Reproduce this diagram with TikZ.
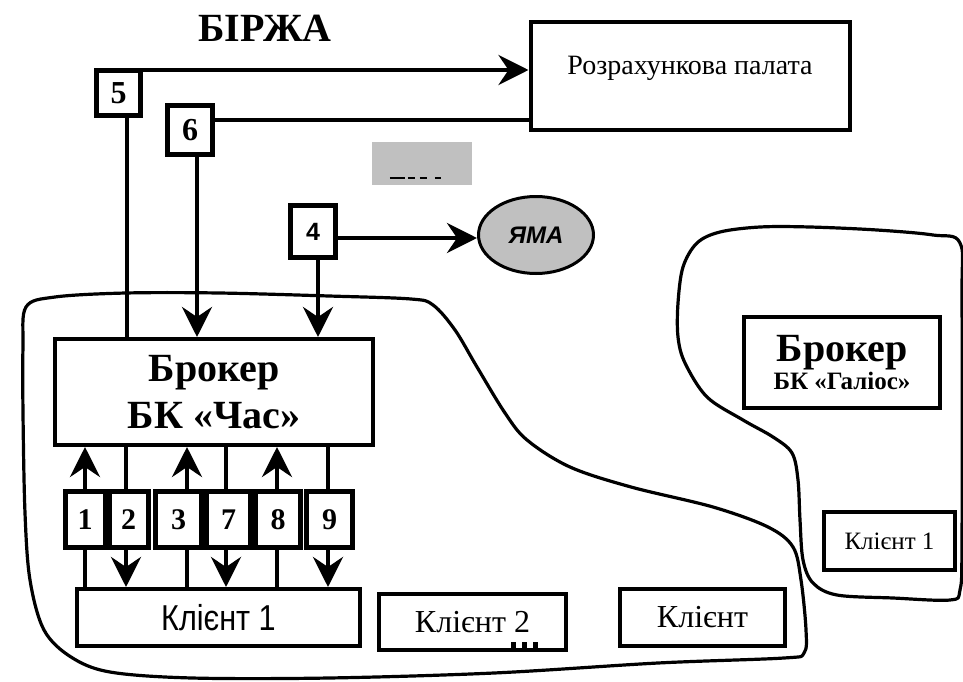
\documentclass[tikz,border=0pt]{standalone}
\usepackage{fontspec}
\setmainfont{Liberation Serif}
\newfontfamily\arialfont{Liberation Sans}
\newfontfamily\arialnarrow[FakeStretch=0.85]{Liberation Sans}
\usetikzlibrary{arrows.meta,shapes.geometric,calc,backgrounds}
\definecolor{ink}{HTML}{000000}
\definecolor{pit}{HTML}{C0C0C0}
\tikzset{
  box/.style={draw=ink, line width=4pt, fill=white, inner sep=0pt, align=center},
  numbox/.style={draw=ink, line width=5pt, fill=white, inner sep=0pt, minimum height=56pt, font=\bfseries\fontsize{30}{30}\selectfont},
  conn/.style={draw=ink, line width=4.5pt},
  arr/.style={conn, -{Stealth[length=30pt,width=30pt,inset=10pt]}},
  blob/.style={draw=ink, line width=3.2pt, line join=round},
}

\begin{document}
\begin{tikzpicture}[x=1pt,y=-1pt]
  \useasboundingbox (0,0) rectangle (963,682);

  \node[font=\bfseries\fontsize{40}{40}\selectfont] (birzha) at (265,28) {БІРЖА};
  \node[box, minimum width=319pt, minimum height=108pt, text height=19pt, text depth=21pt, font=\fontsize{28}{28}\selectfont] (pal) at (690,76) {Розрахункова палата};
  \node[box, line width=5pt, minimum width=44pt, minimum height=45pt, font=\bfseries\fontsize{32}{32}\selectfont] (b5) at (118.5,93) {5};
  \node[box, line width=5pt, minimum width=45pt, minimum height=49pt, font=\bfseries\fontsize{32}{32}\selectfont] (b6) at (190,130) {6};
  \node[fill=pit, minimum width=100pt, minimum height=43pt, inner sep=0pt] (grey) at (422,163.5) {};
  \node[box, line width=4.5pt, minimum width=45pt, minimum height=52pt, font=\arialfont\bfseries\fontsize{25}{25}\selectfont] (b4) at (313,231.5) {4};
  \node[ellipse, draw=ink, line width=3pt, fill=pit, minimum width=115pt, minimum height=77pt, inner sep=0pt, font=\arialfont\bfseries\itshape\fontsize{24}{24}\selectfont] (yama) at (536,235) {ЯМА};

  \node[box, minimum width=318pt, minimum height=106pt, font=\bfseries\fontsize{40}{47}\selectfont] (brA) at (214,392) {Брокер\\БК «Час»};
  \foreach \n/\xx/\ww in {1/85/40,2/128.5/39,3/178.5/46,7/228.5/44,8/278/45,9/329.5/46}
    \node[numbox, minimum width=\ww pt] (n\n) at (\xx,519.5) {\n};

  \node[box, minimum width=283pt, minimum height=57pt, font=\arialnarrow\fontsize{36}{36}\selectfont] (cl1) at (218.5,617.5) {Клієнт 1};
  \node[box, minimum width=187pt, minimum height=56pt, font=\fontsize{32}{32}\selectfont] (cl2) at (472.5,622) {Клієнт 2};
  \node[box, minimum width=165pt, minimum height=57pt, font=\fontsize{32}{32}\selectfont] (cl3) at (702.5,617.5) {Клієнт};

  \node[box, minimum width=196pt, minimum height=91pt, font=\bfseries\fontsize{40}{28}\selectfont] (brB) at (842,362.5) {Брокер\\\fontsize{25}{28}\selectfont БК «Галіос»};
  \node[box, minimum width=131pt, minimum height=58pt, font=\fontsize{25}{25}\selectfont] (clB) at (889.5,541) {Клієнт 1};

  \draw[line width=2pt, dash pattern=on 15pt off 3pt on 7pt off 5pt on 7pt off 8pt on 6pt]
    ($(grey.south west)+(18,-7)$) -- ++(51,0);
  \draw[line width=7pt, dash pattern=on 5pt off 6pt] ($(cl2.south west)+(134,-6.5)$) -- ++(27,0);

  \begin{scope}[on background layer]
    \draw[blob] plot[smooth cycle, tension=0.55] coordinates {
      (26,307) (55,297) (126,293) (219,293) (329,296) (411,299) (433,305) (455,330)
      (477,367) (505,413) (527,440) (570,467) (631,487) (713,507) (768,527) (793,547)
      (801,580) (806,630) (804,653) (784,658) (658,663) (494,673) (329,678) (192,678)
      (110,672) (71,657) (44,630) (30,580) (25,513) (23,413) (23,347)};
    \draw[blob] plot[smooth cycle, tension=0.55] coordinates {
      (960,243) (933,235) (877,230) (810,227) (760,227) (720,232) (697,243) (683,267)
      (678,303) (678,337) (685,363) (707,397) (743,420) (773,437) (792,453) (798,480)
      (800,520) (803,560) (813,583) (837,595) (893,598) (950,600) (960,590) (962,540)
      (962,300)};

    \draw[arr] ($(b5.north east)+(0,2)$) -- ($(b5.north east -| pal.west)+(0,2)$);
    \draw[conn] ($(b6.east)+(0,-10)$) -- ($(b6.east -| pal.west)+(0,-10)$);
    \draw[conn] ($(b5.south)+(8.5,0)$) -- ($(b5.south |- brA.north)+(8.5,0)$);
    \draw[arr] ($(b6.south)+(7,0)$) -- ($(b6.south |- brA.north)+(7,0)$);
    \draw[arr] ($(b4.south)+(5,0)$) -- ($(b4.south |- brA.north)+(5,0)$);
    \draw[arr] ($(b4.east)+(0,6.5)$) -- ($(b4.east -| yama.west)+(0,6.5)$);

    \foreach \n/\dx in {1/0,3/8.5,8/-1}
      \draw[arr] ($(n\n.center |- cl1.north)+(\dx,0)$) -- ($(n\n.center |- brA.south)+(\dx,0)$);
    \foreach \n/\dx in {2/-2.5,7/-2.5,9/-1.5}
      \draw[arr] ($(n\n.center |- brA.south)+(\dx,0)$) -- ($(n\n.center |- cl1.north)+(\dx,0)$);
  \end{scope}
\end{tikzpicture}
\end{document}
